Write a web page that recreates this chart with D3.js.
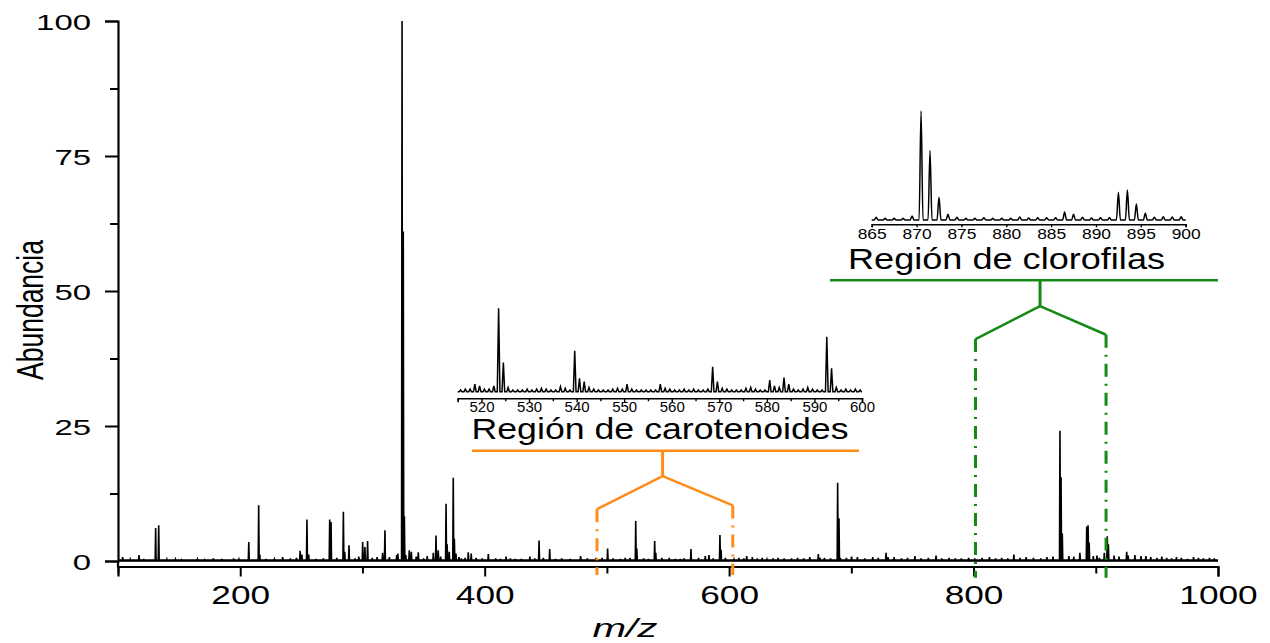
<!DOCTYPE html>
<html>
<head>
<meta charset="utf-8">
<script src="https://cdn.jsdelivr.net/npm/d3@7"></script>
<style>
  body { margin: 0; background: #fff; }
  text { font-family: "Liberation Sans", Arial, sans-serif; fill: #000; }
</style>
</head>
<body>
<div id="chart"></div>
<script>
// espectro completo: [m/z, abundancia]
var picos = [[103.8,0.7],[117.2,1.1],[130.8,6.1],[133.3,6.6],[147,0.3],[178,0.5],[194.6,0.5],[207,3.5],[215.1,10.3],[216,1.2],
  [234.7,0.7],[249,1.9],[250.5,1.2],[254.6,7.7],[256,1.2],[273.2,7.7],[274.3,7.2],[284.4,9.1],[285.5,1.7],[289,2.9],
  [300.2,3.5],[302,2.6],[304.2,3.7],[312,0.7],[316.5,1.5],[318.4,5.7],[328,1.1],[329,1.4],[332.4,100],[333.4,61],
  [334.3,8.3],[335.5,1.1],[338.3,2],[340,1.7],[345.7,1.6],[350,0.5],[358,1.5],[360.2,4.7],[362,2],[368.4,10.6],
  [369.3,3.1],[371,1.7],[374.3,15.4],[375.2,4.1],[376.5,1.4],[381,0.5],[386.6,1.6],[389,1.4],[403,1.3],[417.5,0.8],
  [425,0.4],[437,0.8],[444.5,3.8],[453.2,2.2],[478.5,0.9],[491,0.6],[500.6,2.3],[519,0.6],[523.6,7.4],[524.5,2.3],
  [539.1,3.7],[540,1.5],[551,0.6],[560,0.4],[568.8,2.2],[580.5,0.9],[583.5,1.1],[592.5,4.8],[593.4,2.1],[604,0.3],
  [614.4,0.9],[631,0.3],[651,0.5],[673,1.3],[674.5,0.6],[688.8,14.5],[689.9,7.9],[691,0.6],[700.2,0.8],[717.5,0.7],
  [728.4,1.5],[730,0.7],[752,0.9],[769.3,1],[790,0.5],[833,1.2],[870.7,24.1],[871.6,15.5],[872.6,5.1],[887,1.5],
  [892.6,6.4],[893.7,6.6],[894.6,3.4],[903,0.6],[907,1.5],[909.4,4.6],[910.3,3.1],[925.3,1.7],[926.5,1],[932,1.1],
  [941,0.9],[950,0.6],[962,0.5],[975,0.4],[988,0.5]];

// ruido de fondo
var ruido = [[110,0.3],[121,0.4],[140,0.3],[152,0.2],[165,0.3],[171,0.2],[185,0.4],[199,0.3],[221,0.4],[228,0.3],
  [241,0.5],[246,0.6],[262,0.4],[268,0.5],[279,0.6],[294,0.5],[297,0.8],[308,0.6],[322,0.7],[344,0.8],[353,0.9],
  [364,0.8],[379,0.7],[384,0.6],[393,0.6],[398,0.5],[409,0.5],[413,0.4],[421,0.5],[430,0.4],[441,0.5],[448,0.6],
  [458,0.4],[463,0.5],[470,0.4],[484,0.5],[496,0.6],[505,0.5],[511,0.4],[515,0.6],[530,0.5],[534,0.4],[545,0.6],
  [556,0.4],[563,0.5],[575,0.6],[587,0.5],[597,0.6],[608,0.6],[612,0.5],[619,0.7],[623,0.5],[627,0.6],[636,0.5],
  [640,0.6],[645,0.5],[656,0.6],[661,0.5],[666,0.7],[678,0.6],[683,0.5],[696,0.6],[705,0.7],[711,0.5],[722,0.6],
  [735,0.7],[741,0.5],[746,0.6],[757,0.5],[763,0.6],[774,0.5],[780,0.6],[785,0.5],[796,0.6],[801,0.5],[807,0.6],
  [813,0.7],[818,0.5],[823,0.6],[828,0.5],[838,0.6],[843,0.7],[849,0.6],[855,0.5],[860,0.7],[865,0.8],[878,0.9],
  [882,0.8],[898,0.9],[901,1.0],[915,1.0],[919,0.8],[937,0.9],[945,0.7],[954,0.8],[958,0.6],[966,0.7],[970,0.6],
  [980,0.7],[984,0.6],[993,0.6],[997,0.5]];

// region de carotenoides (m/z 515.6 ... 599.6, % relativo)
var carotInicio = 515.6;
var carotAlturas = [2,3,3,9,7,3,3,7,100,35,5,2,2,2,3,2,3,4,3,2,2,6,4,2,49,16,12,5,3,2,2,2,3,4,3,9,3,2,2,2,2,2,9,4,3,2,2,3,2,3,
  2,2,3,30,12,4,3,2,2,2,4,5,3,2,2,14,7,5,17,9,3,2,3,5,3,2,2,66,28,5,2,3,2,3,2];

// region de clorofilas (m/z 865.5 ... 899.5, % relativo)
var cloroInicio = 865.5;
var cloroAlturas = [2.5,1.5,1.5,1.5,3.7,100,63.6,20.8,5.2,2.5,1.5,1.5,2,1.5,1.5,1.5,2.8,1.8,2,2,2,7.3,5.2,2.5,1.8,2,2.2,
  25.4,27.5,14.7,6.1,2.5,3,2.8,3];

var xTicks = [100,200,300,400,500,600,700,800,900,1000];
var yTicks = [0,12.5,25,37.5,50,62.5,75,87.5,100];
var carotTicks = [515,520,525,530,535,540,545,550,555,560,565,570,575,580,585,590,595,600];
var cloroTicks = [865,870,875,880,885,890,895,900];

// anotaciones en unidades de datos
var naranja = "#ff8c1a", verde = "#158a15";
var corcheteCarot = {izq: 491.9, der: 603, topIzq: 9.6, topDer: 10.3, vertice: [545.6, 15.7], barra: 20.4, barraDe: 389.6, barraA: 706.3, fondo: -2.6};
var corcheteCloro = {izq: 801.6, der: 908.4, topIzq: 41.1, topDer: 41.9, vertice: [854.4, 47.2], barra: 52, barraDe: 682.5, barraA: 1000, fondo: -3.1};

var width = 1270, height = 643;
var svg = d3.select("#chart").append("svg").attr("width", width).attr("height", height);

var x = d3.scaleLinear().domain([100, 1000]).range([118, 1218]);
var y = d3.scaleLinear().domain([0, 100]).range([561, 21]);

function trazo(lista, desde, hasta, w) {
  var pts = [[desde, 0]];
  lista.slice().sort(function(a, b) { return a[0] - b[0]; }).forEach(function(p) {
    pts.push([p[0] - w, 0], [p[0], p[1]], [p[0] + w, 0]);
  });
  pts.push([hasta, 0]);
  return pts;
}

// espectro
var linea = d3.line().x(function(d) { return x(d[0]); }).y(function(d) { return y(d[1]); });
svg.append("path")
  .attr("d", linea(trazo(picos.concat(ruido), 100, 1000, 0.4)))
  .attr("fill", "none").attr("stroke", "#000").attr("stroke-width", 1.6)
  .attr("stroke-linejoin", "miter");
svg.append("line").attr("x1", x(100)).attr("x2", x(1000)).attr("y1", y(0.15)).attr("y2", y(0.15))
  .attr("stroke", "#000").attr("stroke-width", 2);

// eje x
var gx = svg.append("g").attr("transform", "translate(0,566.5)")
  .call(d3.axisBottom(x).tickValues(xTicks).tickSizeOuter(0).tickSize(10).tickFormat(function(d) { return d % 200 === 0 ? d : ""; }));
gx.select(".domain").attr("stroke-width", 2.2);
gx.selectAll(".tick line").attr("stroke-width", 2).attr("y2", function(d) { return d % 200 === 0 ? 10 : 7; });
gx.selectAll(".tick text").filter(function(d) { return d % 200 !== 0; }).remove();
gx.selectAll(".tick text").attr("y", 37.5).attr("dy", 0)
  .style("font-size", "25.6px").attr("font-family", null)
  .attr("textLength", function(d) { return String(d).length * 19.6; })
  .attr("lengthAdjust", "spacingAndGlyphs");

// eje y
var gy = svg.append("g").attr("transform", "translate(118,0)")
  .call(d3.axisLeft(y).tickValues(yTicks).tickSizeOuter(0).tickSize(13).tickFormat(function(d) { return d % 25 === 0 ? d : ""; }));
gy.select(".domain").attr("stroke-width", 2.2);
gy.selectAll(".tick line").attr("stroke-width", 2).attr("x2", function(d) { return d % 25 === 0 ? -13 : -8; });
gy.selectAll(".tick text").filter(function(d) { return d % 25 !== 0; }).remove();
gy.selectAll(".tick text").attr("x", -27).attr("dy", 8)
  .style("font-size", "22px").attr("font-family", null)
  .attr("textLength", function(d) { return String(d).length * 18.3; })
  .attr("lengthAdjust", "spacingAndGlyphs");
svg.append("line").attr("x1", 118).attr("x2", 118).attr("y1", y(0)).attr("y2", 567.5)
  .attr("stroke", "#000").attr("stroke-width", 2.2);

// titulos de ejes
svg.append("text").attr("x", 625).attr("y", 636.5).attr("text-anchor", "middle")
  .style("font-size", "25px").style("font-style", "italic")
  .attr("textLength", 65).attr("lengthAdjust", "spacingAndGlyphs").text("m/z");
svg.append("text").attr("transform", "translate(43,310) rotate(-90)").attr("text-anchor", "middle")
  .style("font-size", "36px").attr("textLength", 140).attr("lengthAdjust", "spacingAndGlyphs").text("Abundancia");

// inserto: carotenoides
var carotDatos = carotAlturas.map(function(h, i) { return [carotInicio + i, h]; });
var xc = d3.scaleLinear().domain([515, 600]).range([457.7, 862]);
var yc = d3.scaleLinear().domain([0, 100]).range([391.7, 308.3]);
svg.append("path")
  .attr("d", d3.line().x(function(d) { return xc(d[0]); }).y(function(d) { return yc(d[1]); })(trazo(carotDatos, 515, 600, 0.28)))
  .attr("fill", "none").attr("stroke", "#000").attr("stroke-width", 1.5);
var gc = svg.append("g").attr("transform", "translate(0,398.3)")
  .call(d3.axisBottom(xc).tickValues(carotTicks).tickSizeOuter(0).tickSize(4).tickFormat(function(d) { return d % 10 === 0 ? d : ""; }));
gc.select(".domain").attr("stroke-width", 1.6);
gc.selectAll(".tick line").attr("stroke-width", 1.4).attr("y2", function(d) { return d % 10 === 0 ? 4 : 3; });
gc.selectAll(".tick text").filter(function(d) { return d % 10 !== 0; }).remove();
gc.selectAll(".tick text").attr("y", 14).attr("dy", 0).style("font-size", "15px").attr("font-family", null)
  .attr("textLength", 25).attr("lengthAdjust", "spacingAndGlyphs");

// inserto: clorofilas
var cloroDatos = cloroAlturas.map(function(h, i) { return [cloroInicio + i, h]; });
var xl = d3.scaleLinear().domain([865, 900]).range([871.7, 1185.7]);
var yl = d3.scaleLinear().domain([0, 100]).range([220, 111]);
svg.append("path")
  .attr("d", d3.line().curve(d3.curveMonotoneX).x(function(d) { return xl(d[0]); }).y(function(d) { return yl(d[1]); })(trazo(cloroDatos, 865, 900, 0.22)))
  .attr("fill", "none").attr("stroke", "#000").attr("stroke-width", 1.5);
var gl = svg.append("g").attr("transform", "translate(0,224.3)")
  .call(d3.axisBottom(xl).tickValues(cloroTicks).tickSizeOuter(0).tickSize(3));
gl.select(".domain").attr("stroke-width", 1.6);
gl.selectAll(".tick line").attr("stroke-width", 1.4);
gl.selectAll(".tick text").attr("y", 14.5).attr("dy", 0).style("font-size", "15px").attr("font-family", null)
  .attr("textLength", 29).attr("lengthAdjust", "spacingAndGlyphs");

// rotulos de region
svg.append("text").attr("x", 660).attr("y", 439).attr("text-anchor", "middle")
  .style("font-size", "29px").attr("textLength", 377).attr("lengthAdjust", "spacingAndGlyphs").text("Región de carotenoides");
svg.append("text").attr("x", 1006.5).attr("y", 269).attr("text-anchor", "middle")
  .style("font-size", "30px").attr("textLength", 317).attr("lengthAdjust", "spacingAndGlyphs").text("Región de clorofilas");

// corchetes
function corchete(c, color) {
  var g = svg.append("g").attr("stroke", color).attr("fill", "none");
  g.append("line").attr("x1", x(c.barraDe)).attr("x2", x(c.barraA)).attr("y1", y(c.barra)).attr("y2", y(c.barra)).attr("stroke-width", 2.5);
  g.append("polyline").attr("stroke-width", 2.5)
    .attr("points", [[c.izq, c.topIzq], c.vertice, [c.der, c.topDer]].map(function(p) { return x(p[0]) + "," + y(p[1]); }).join(" "));
  g.append("line").attr("x1", x(c.vertice[0])).attr("x2", x(c.vertice[0])).attr("y1", y(c.vertice[1])).attr("y2", y(c.barra)).attr("stroke-width", 3);
  [[c.izq, c.topIzq], [c.der, c.topDer]].forEach(function(p) {
    g.append("line").attr("x1", x(p[0])).attr("x2", x(p[0])).attr("y1", y(p[1])).attr("y2", y(c.fondo))
      .attr("stroke-width", 3).attr("stroke-dasharray", "13,7,2,7");
  });
}
corchete(corcheteCarot, naranja);
corchete(corcheteCloro, verde);
</script>
</body>
</html>
